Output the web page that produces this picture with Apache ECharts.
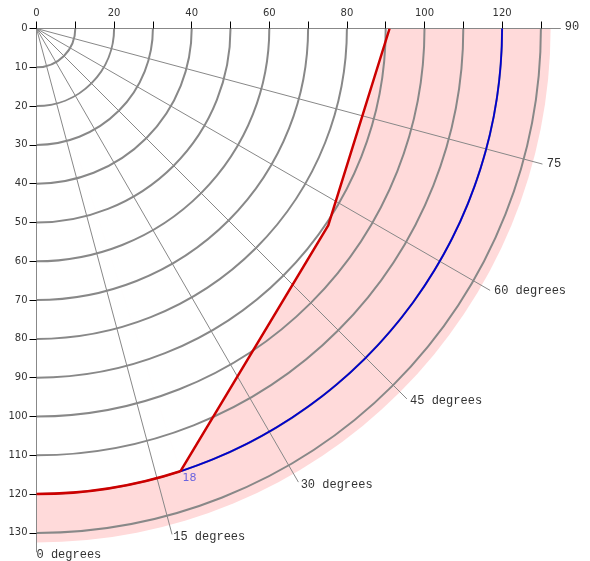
<!DOCTYPE html>
<html><head><meta charset="utf-8">
<script src="https://cdn.jsdelivr.net/npm/echarts@6/dist/echarts.min.js"></script>
<style>html,body{margin:0;padding:0;background:#fff}#c{width:590px;height:561px}</style>
</head><body><div id="c"></div>
<script>
// ---- data ----
const xTickValues = [0,10,20,30,40,50,60,70,80,90,100,110,120,130];
const xLabelValues = [0,20,40,60,80,100,120];
const yTickValues = [0,10,20,30,40,50,60,70,80,90,100,110,120,130];
const spokeAngles = [0,15,30,45,60,75,90];
const spokeLabels = ['0 degrees','15 degrees','30 degrees','45 degrees','60 degrees','75','90'];
const spokeLabelR = 135;
const redArcR = 120;
const redArcA = [0, 18];
const redLineR = [120, 90.7, 91];
const redLineA = [18, 56, 90];
const blueArcR = 120;
const blueArcA = [18, 90];
const bandOuterR = 132.5;
const markR = 120;
const markA = 18;
const markText = '18';

// ---- layout ----
const S = 3.88;           // px per unit
const CX = 36.5, CY = 28.5;
const chart = echarts.init(document.getElementById('c'));

function angOf(api, c, a) {
  const p = api.coord([10, a]);
  return Math.atan2(p[1] - c[1], p[0] - c[0]);
}

const option = {
  animation: false,
  backgroundColor: '#fff',
  grid: { left: CX, top: CY, width: 135 * S, height: 134 * S, containLabel: false },
  xAxis: {
    type: 'value', position: 'top', min: 0, max: 135,
    axisLine: { show: true, lineStyle: { color: '#888', width: 1 } },
    axisTick: { show: true, length: 7, customValues: xTickValues, lineStyle: { color: '#000', width: 1 } },
    axisLabel: { customValues: xLabelValues, margin: 10, fontFamily: 'DejaVu Sans', fontSize: 10, color: '#333' },
    splitLine: { show: false }, z: 3
  },
  yAxis: {
    type: 'value', inverse: true, min: 0, max: 134,
    axisLine: { show: true, lineStyle: { color: '#888', width: 1 } },
    axisTick: { show: true, length: 7, customValues: yTickValues, lineStyle: { color: '#000', width: 1 } },
    axisLabel: { customValues: yTickValues, margin: 9, fontFamily: 'DejaVu Sans', fontSize: 10, color: '#333' },
    splitLine: { show: false }, z: 3
  },
  polar: [
    { center: [CX, CY], radius: 135 * S },
    { center: [CX, CY], radius: 130 * S }
  ],
  angleAxis: [
    { polarIndex: 0, type: 'value', min: 0, max: 90, interval: 15, startAngle: 270, endAngle: 360, clockwise: false,
      axisLine: { show: false }, axisTick: { show: false }, axisLabel: { show: false },
      splitLine: { show: true, lineStyle: { color: '#888', width: 1 } }, z: 3 },
    { polarIndex: 1, type: 'value', min: 0, max: 90, interval: 15, startAngle: 270, endAngle: 360, clockwise: false,
      axisLine: { show: false }, axisTick: { show: false }, axisLabel: { show: false },
      splitLine: { show: false }, z: 3 }
  ],
  radiusAxis: [
    { polarIndex: 0, type: 'value', min: 0, max: 135,
      axisLine: { show: false }, axisTick: { show: false }, axisLabel: { show: false }, splitLine: { show: false } },
    { polarIndex: 1, type: 'value', min: 0, max: 130, interval: 10,
      axisLine: { show: false }, axisTick: { show: false }, axisLabel: { show: false },
      splitLine: { show: true, lineStyle: { color: '#888', width: 2 } }, z: 3 }
  ],
  series: [
    { // pink band with white interior
      type: 'custom', coordinateSystem: 'polar', polarIndex: 0, z: 1, silent: true,
      data: [[bandOuterR, 0]],
      renderItem: function (params, api) {
        const c = api.coord([0, 0]);
        const o = api.coord([bandOuterR, 0]);
        const R = Math.hypot(o[0] - c[0], o[1] - c[1]);
        const a0 = angOf(api, c, 0), a90 = angOf(api, c, 90);
        const r1p = api.coord([redArcR, 0]);
        const r1 = Math.hypot(r1p[0] - c[0], r1p[1] - c[1]);
        const aA = angOf(api, c, redArcA[0]), aB = angOf(api, c, redArcA[1]);
        const poly = [c].concat(redLineR.map((r, i) => api.coord([r, redLineA[i]])));
        return {
          type: 'group',
          children: [
            { type: 'sector', shape: { cx: c[0], cy: c[1], r0: 0, r: R,
                startAngle: Math.min(a0, a90), endAngle: Math.max(a0, a90), clockwise: true },
              style: { fill: '#ffdada' } },
            { type: 'sector', shape: { cx: c[0], cy: c[1], r0: 0, r: r1,
                startAngle: Math.min(aA, aB), endAngle: Math.max(aA, aB), clockwise: true },
              style: { fill: '#fff', stroke: '#fff', lineWidth: 1 } },
            { type: 'polygon', shape: { points: poly },
              style: { fill: '#fff', stroke: '#fff', lineWidth: 1 } }
          ]
        };
      }
    },
    { // arcs: red and blue
      type: 'custom', coordinateSystem: 'polar', polarIndex: 0, z: 6, silent: true,
      data: [[redArcR, redArcA[0], redArcA[1], 0], [blueArcR, blueArcA[0], blueArcA[1], 1]],
      renderItem: function (params, api) {
        const r = api.value(0), a1 = api.value(1), a2 = api.value(2), kind = api.value(3);
        const c = api.coord([0, 0]);
        const p = api.coord([r, a1]);
        const rp = Math.hypot(p[0] - c[0], p[1] - c[1]);
        const s1 = angOf(api, c, a1), s2 = angOf(api, c, a2);
        return {
          type: 'arc',
          shape: { cx: c[0], cy: c[1], r: rp, startAngle: Math.min(s1, s2), endAngle: Math.max(s1, s2), clockwise: true },
          style: { stroke: kind === 0 ? '#cc0000' : '#0000cc', lineWidth: kind === 0 ? 2.5 : 1.8, fill: null }
        };
      }
    },
    { // red polyline
      type: 'line', coordinateSystem: 'polar', polarIndex: 0, z: 6,
      data: redLineR.map((r, i) => [r, redLineA[i]]),
      symbol: 'none', lineStyle: { color: '#cc0000', width: 2.5 }
    },
    { // spoke labels
      type: 'custom', coordinateSystem: 'polar', polarIndex: 0, z: 7, silent: true, clip: false,
      data: spokeAngles.map((a, i) => [spokeLabelR, a, i]),
      renderItem: function (params, api) {
        const c = api.coord([0, 0]);
        const p = api.coord([api.value(0), api.value(1)]);
        const dx = p[0] - c[0], dy = p[1] - c[1];
        const L = Math.hypot(dx, dy);
        return {
          type: 'text',
          x: p[0] + dx / L * 4.5, y: p[1] + dy / L * 4.5 - 1.5,
          style: { text: spokeLabels[api.value(2)], fontFamily: 'Liberation Mono', fontSize: 12,
                   fill: '#333', align: 'left', verticalAlign: 'middle' }
        };
      }
    },
    { // junction label
      type: 'scatter', coordinateSystem: 'polar', polarIndex: 0, z: 7,
      symbolSize: 0,
      data: [[markR, markA]],
      label: { show: true, position: [2, 1], formatter: markText,
        fontFamily: 'DejaVu Sans', fontSize: 11, color: '#4646e0' }
    }
  ]
};
chart.setOption(option);
</script>
</body></html>
